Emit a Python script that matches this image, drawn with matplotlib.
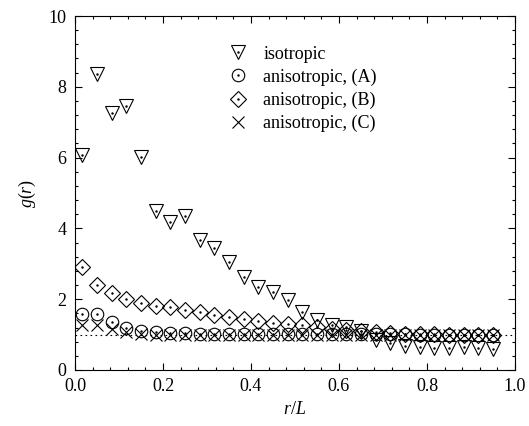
import numpy as np
import matplotlib
matplotlib.use('Agg')
import matplotlib.pyplot as plt
from matplotlib.ticker import MultipleLocator, FormatStrFormatter

plt.rcParams['font.family'] = 'Liberation Serif'
plt.rcParams['mathtext.fontset'] = 'custom'
plt.rcParams['mathtext.rm'] = 'Liberation Serif'
plt.rcParams['mathtext.it'] = 'Liberation Serif:italic'

# bin centres r/L
r = (np.arange(29) + 0.5) / 30

g_iso = [6.07, 8.36, 7.25, 7.46, 6.01, 4.49, 4.19, 4.36, 3.67, 3.44,
         3.04, 2.62, 2.34, 2.19, 1.98, 1.63, 1.40, 1.28, 1.22, 1.10,
         0.85, 0.75, 0.68, 0.64, 0.63, 0.62, 0.64, 0.63, 0.60]
g_A = [1.57, 1.57, 1.35, 1.18, 1.10, 1.07, 1.05, 1.04, 1.03, 1.03,
       1.03, 1.02, 1.02, 1.02, 1.02, 1.02, 1.01, 1.01, 1.01, 1.01,
       1.01, 1.01, 1.01, 1.00, 1.00, 1.00, 1.00, 1.00, 1.00]
g_B = [2.90, 2.40, 2.18, 2.00, 1.88, 1.81, 1.77, 1.69, 1.63, 1.55,
       1.49, 1.44, 1.39, 1.34, 1.30, 1.26, 1.21, 1.17, 1.14, 1.10,
       1.07, 1.05, 1.03, 1.02, 1.01, 1.00, 1.00, 1.00, 1.00]
g_C = [1.27, 1.27, 1.15, 1.06, 1.02, 1.00, 1.00, 0.99, 0.99, 0.99,
       0.99, 0.99, 0.99, 0.99, 0.99, 0.99, 0.99, 0.99, 0.99, 0.99,
       0.99, 0.99, 0.99, 0.99, 0.99, 0.99, 0.99, 0.99, 0.99]

labels = ['isotropic', 'anisotropic, (A)', 'anisotropic, (B)', 'anisotropic, (C)']
markers = ['v', 'o', 'D', 'x']
sizes = [9.5, 9, 8, 9]
dotted = [True, True, True, False]

fig = plt.figure(figsize=(5.29, 4.26), dpi=100)
ax = fig.add_axes([0.1418, 0.1315, 0.8317, 0.8309])

ax.axhline(1.0, color='k', lw=0.8, dashes=(1.5, 3))

handles = []
for y, m, s, d in zip([g_iso, g_A, g_B, g_C], markers, sizes, dotted):
    h, = ax.plot(r, y, ls='none', marker=m, ms=s, mfc='none', mec='k', mew=0.8)
    if d:
        c, = ax.plot(r, y, ls='none', marker='.', ms=1.5, color='k')
        handles.append((h, c))
    else:
        handles.append(h)

ax.set_xlim(0, 1)
ax.set_ylim(0, 10)
ax.xaxis.set_major_locator(MultipleLocator(0.2))
ax.xaxis.set_minor_locator(MultipleLocator(0.04))
ax.yaxis.set_major_locator(MultipleLocator(2))
ax.yaxis.set_minor_locator(MultipleLocator(0.4))
ax.xaxis.set_major_formatter(FormatStrFormatter('%.1f'))
ax.tick_params(which='both', direction='in', top=True, right=True,
               labelsize=13, colors='k', width=0.8)
ax.tick_params(which='major', length=5, pad=6)
ax.tick_params(which='minor', length=2.5)
for sp in ax.spines.values():
    sp.set_linewidth(0.8)

ax.set_xlabel('$r/L$', fontsize=13, labelpad=4)
ax.set_ylabel('$g(r)$', fontsize=13, labelpad=8)

ax.legend(handles, labels, loc='upper left', bbox_to_anchor=(0.35, 0.916),
          frameon=False, fontsize=13, borderpad=0, handlelength=1.0,
          handletextpad=0.9, labelspacing=0.32, borderaxespad=0)

fig.savefig('out.png', dpi=100)
